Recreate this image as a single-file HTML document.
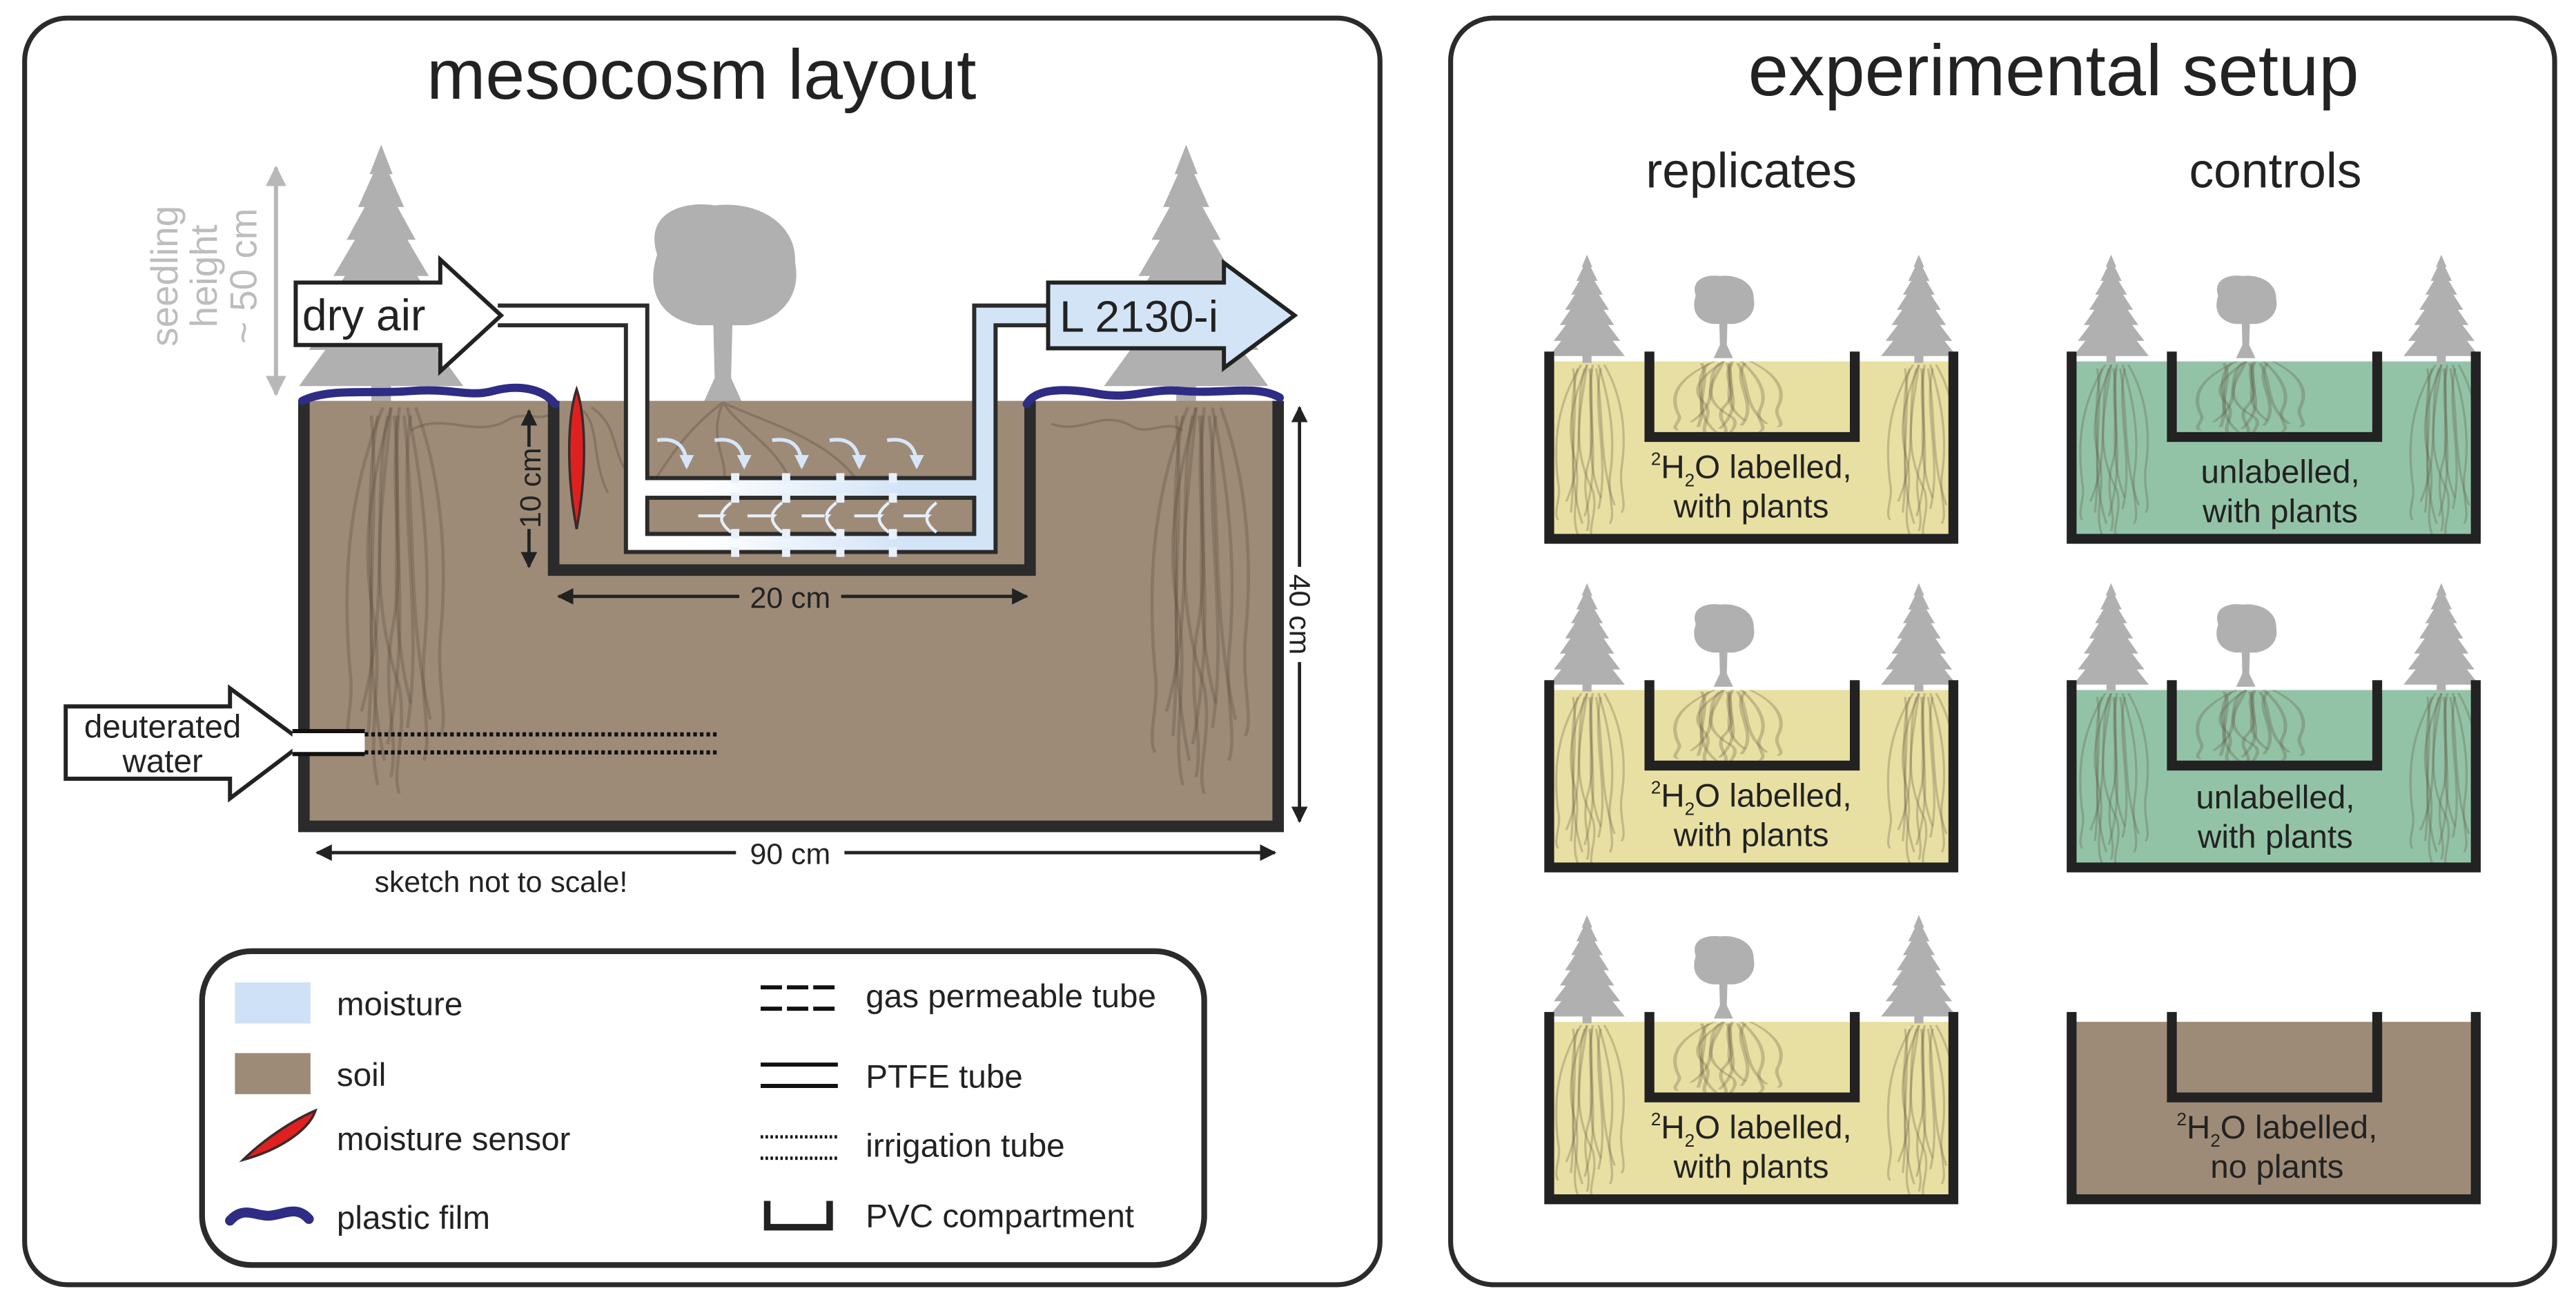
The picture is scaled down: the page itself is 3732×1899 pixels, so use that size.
<!DOCTYPE html>
<html><head><meta charset="utf-8"><style>
html,body{margin:0;padding:0;background:#fff}
svg{display:block}
text{font-family:"Liberation Sans",sans-serif;fill:#222}
</style></head><body>
<svg width="3732" height="1899" viewBox="0 0 1568 798" preserveAspectRatio="none" xmlns="http://www.w3.org/2000/svg">
<defs>
<path id="con" d="M0,0 L-7,18 L-5,18 L-14,38 L-10,38 L-21,58 L-16,58 L-29,80 L-22,80 L-36,102 L-28,102 L-44,125 L-34,125 L-50,147 L-6,147 L-6,157 L6,157 L6,147 L50,147 L34,125 L44,125 L28,102 L36,102 L22,80 L29,80 L16,58 L21,58 L10,38 L14,38 L5,18 L7,18 Z" fill="#b0b0b0"/>
<g id="dec">
<path d="M-40,-15 C-48,-40 -25,-48 -5,-45 C20,-48 45,-35 44,-10 C48,10 35,25 15,28 L-15,28 C-35,25 -48,10 -40,-15 Z" fill="#b0b0b0"/>
<path d="M-6,20 L-5,60 L-14,80 L14,80 L5,60 L6,20 Z" fill="#b0b0b0"/>
</g>
<g id="roots" fill="none" stroke="#5e4b3a" stroke-opacity="0.3" stroke-width="2">
<path d="M0,0 C-10,40 -20,80 -10,130 C-5,170 -15,200 -8,230"/>
<path d="M5,0 C0,50 10,90 0,140 C-5,180 5,200 0,225"/>
<path d="M10,0 C20,50 25,100 20,150 C18,180 25,200 20,215"/>
<path d="M-5,0 C-25,50 -30,100 -25,160 C-22,180 -30,200 -25,210"/>
<path d="M15,0 C30,40 35,90 30,140 C28,170 35,190 30,200"/>
<path d="M0,0 C-5,60 -15,110 5,170 C10,200 0,220 5,235"/>
<path d="M2,5 C8,60 -4,120 12,180"/>
<path d="M-2,5 C-12,60 0,120 -18,185"/>
<path d="M8,5 C15,70 10,130 24,190"/>
<path d="M-8,5 C-18,60 -8,120 -14,200"/>
<path d="M4,5 C-2,70 14,120 -2,205"/>
<path d="M12,5 C4,60 20,130 10,195"/>
<path d="M-12,5 C-6,70 -20,140 -4,215"/>
</g>
<marker id="ah" viewBox="0 0 10 10" refX="9" refY="5" markerWidth="5" markerHeight="5" orient="auto-start-reverse"><path d="M0,0 L10,5 L0,10 Z" fill="#222"/></marker>
<marker id="ahg" viewBox="0 0 10 10" refX="9" refY="5" markerWidth="5" markerHeight="5" orient="auto-start-reverse"><path d="M0,0 L10,5 L0,10 Z" fill="#b8b8b8"/></marker>
<marker id="ahb" viewBox="0 0 10 10" refX="8" refY="5" markerWidth="4" markerHeight="4" orient="auto"><path d="M0,0 L10,5 L0,10 Z" fill="#d6e6f8"/></marker>
<linearGradient id="tg" x1="381" y1="0" x2="606" y2="0" gradientUnits="userSpaceOnUse"><stop offset="0.2" stop-color="#ffffff"/><stop offset="0.75" stop-color="#d3e4f7"/></linearGradient>
</defs>

<rect x="15" y="11" width="825" height="771" rx="26" fill="#fff" stroke="#2b2b2b" stroke-width="3"/>
<rect x="883" y="11" width="672" height="771" rx="26" fill="#fff" stroke="#2b2b2b" stroke-width="3"/>
<text x="427" y="60" font-size="43" text-anchor="middle">mesocosm layout</text>
<text x="1250" y="58" font-size="44" text-anchor="middle">experimental setup</text>
<text x="1066" y="114" font-size="30" text-anchor="middle">replicates</text>
<text x="1385" y="114" font-size="30" text-anchor="middle">controls</text>

<line x1="168" y1="102" x2="168" y2="240" stroke="#b8b8b8" stroke-width="2.5" marker-start="url(#ahg)" marker-end="url(#ahg)"/>
<g transform="rotate(-90)">
<text x="-168" y="108" font-size="23" text-anchor="middle" style="fill:#bdbdbd">seedling</text>
<text x="-168" y="132" font-size="23" text-anchor="middle" style="fill:#bdbdbd">height</text>
<text x="-168" y="156" font-size="23" text-anchor="middle" style="fill:#bdbdbd">~ 50 cm</text>
</g>

<use href="#con" transform="translate(232,88)"/>
<use href="#con" transform="translate(722,88)"/>
<use href="#dec" transform="translate(440,170)"/>

<rect x="185" y="244" width="593" height="259" fill="#9d8b78"/>
<use href="#roots" transform="translate(238,248)"/>
<use href="#roots" transform="translate(728,248)"/>
<g fill="none" stroke="#5e4b3a" stroke-opacity="0.35" stroke-width="1.5">
<path d="M250,262 C270,250 290,268 310,255 C320,250 330,258 338,250"/>
<path d="M440,245 C420,260 410,275 400,290 M440,245 C450,260 470,270 480,290 M440,245 C430,270 445,280 440,295 M440,245 C460,255 500,265 520,290"/>
<path d="M355,250 C365,260 360,280 370,300 M360,248 C375,258 372,270 380,285"/>
<path d="M600,250 C610,270 598,290 605,310 M640,258 C660,265 670,248 690,260 C700,265 710,255 720,262"/>
</g>
<path d="M185,244 L185,503 L778,503 L778,244" fill="none" stroke="#2b2b2b" stroke-width="7"/>

<path d="M303,186 L394,186 L394,291 L593,291 L593,186 L640,186 L640,198 L606,198 L606,336 L381,336 L381,198 L303,198 Z" fill="url(#tg)"/>
<rect x="394" y="303" width="199" height="22" fill="#9d8b78"/>
<g fill="none" stroke="#2b2b2b" stroke-width="2.5">
<path d="M303,186 L394,186 L394,291 L593,291 L593,186 L640,186"/>
<path d="M303,198 L381,198 L381,336 L606,336 L606,198 L640,198"/>
<rect x="394" y="303" width="199" height="22"/>
</g>
<g fill="#e8f0fa">
<rect x="445" y="288" width="5" height="6"/><rect x="476" y="288" width="5" height="6"/><rect x="509" y="288" width="5" height="6"/><rect x="541" y="288" width="5" height="6"/>
<rect x="445" y="300" width="5" height="6"/><rect x="476" y="300" width="5" height="6"/><rect x="509" y="300" width="5" height="6"/><rect x="541" y="300" width="5" height="6"/>
<rect x="445" y="322" width="5" height="6"/><rect x="476" y="322" width="5" height="6"/><rect x="509" y="322" width="5" height="6"/><rect x="541" y="322" width="5" height="6"/>
<rect x="445" y="333" width="5" height="6"/><rect x="476" y="333" width="5" height="6"/><rect x="509" y="333" width="5" height="6"/><rect x="541" y="333" width="5" height="6"/>
</g>
<g fill="none" stroke="#d6e6f8" stroke-width="2.2" marker-end="url(#ahb)">
<path d="M400,268 C412,266 418,272 418,284"/>
<path d="M435,268 C447,266 453,272 453,284"/>
<path d="M470,268 C482,266 488,272 488,284"/>
<path d="M505,268 C517,266 523,272 523,284"/>
<path d="M540,268 C552,266 558,272 558,284"/>
</g>
<g fill="none" stroke="#e6eef8" stroke-width="1.8">
<path d="M425,314 L440,314 M445,306 C440,310 438,314 440,314 C438,316 440,320 445,324"/>
<path d="M455,314 L470,314 M476,306 C471,310 469,314 471,314 C469,316 471,320 476,324"/>
<path d="M488,314 L502,314 M509,306 C504,310 502,314 504,314 C502,316 504,320 509,324"/>
<path d="M520,314 L535,314 M541,306 C536,310 534,314 536,314 C534,316 536,320 541,324"/>
<path d="M550,314 L564,314 M570,306 C565,310 563,314 565,314 C563,316 565,320 570,324"/>
</g>

<path d="M337,244 L337,347 L627,347 L627,244" fill="none" stroke="#2b2b2b" stroke-width="7"/>

<path d="M184,244 C200,236 225,240 250,238 C275,236 285,242 300,238 C315,234 330,236 338,246" fill="none" stroke="#2e2c85" stroke-width="5" stroke-linecap="round"/>
<path d="M625,246 C630,236 650,236 670,240 C690,243 700,236 720,238 C745,240 765,234 779,242" fill="none" stroke="#2e2c85" stroke-width="5" stroke-linecap="round"/>

<path d="M351,237 C357,255 357,290 351,322 C345,290 345,255 351,237 Z" fill="#e0201f" stroke="#3a2a2a" stroke-width="1.5"/>

<path d="M180,172 L268,172 L268,158 L305,192 L268,226 L268,210 L180,210 Z" fill="#fff" stroke="#222" stroke-width="2.5"/>
<text x="184" y="201" font-size="27">dry air</text>
<path d="M638,172 L745,172 L745,160 L788,192 L745,224 L745,212 L638,212 Z" fill="#d3e4f7" stroke="#222" stroke-width="2.5"/>
<text x="645" y="202" font-size="27">L 2130-i</text>

<path d="M40,430 L140,430 L140,419 L185,452 L140,486 L140,474 L40,474 Z" fill="#fff" stroke="#222" stroke-width="2.5"/>
<text x="99" y="449" font-size="20" text-anchor="middle">deuterated</text>
<text x="99" y="470" font-size="20" text-anchor="middle">water</text>
<rect x="178" y="446" width="44" height="13" fill="#fff"/>
<line x1="178" y1="445" x2="222" y2="445" stroke="#111" stroke-width="2.5"/>
<line x1="178" y1="459" x2="222" y2="459" stroke="#111" stroke-width="2.5"/>
<line x1="222" y1="447" x2="438" y2="447" stroke="#111" stroke-width="2.5" stroke-dasharray="2.2 1.8"/>
<line x1="222" y1="458" x2="438" y2="458" stroke="#111" stroke-width="2.5" stroke-dasharray="2.2 1.8"/>

<line x1="322" y1="250" x2="322" y2="345" stroke="#222" stroke-width="2" marker-start="url(#ah)" marker-end="url(#ah)"/>
<rect x="314" y="272" width="16" height="50" fill="#9d8b78"/>
<text transform="translate(329,297) rotate(-90)" font-size="18" text-anchor="middle">10 cm</text>
<line x1="340" y1="363" x2="625" y2="363" stroke="#222" stroke-width="2" marker-start="url(#ah)" marker-end="url(#ah)"/>
<rect x="450" y="352" width="62" height="22" fill="#9d8b78"/>
<text x="481" y="370" font-size="18" text-anchor="middle">20 cm</text>
<line x1="791" y1="248" x2="791" y2="500" stroke="#222" stroke-width="2" marker-start="url(#ah)" marker-end="url(#ah)"/>
<rect x="782" y="345" width="18" height="58" fill="#fff"/>
<text transform="translate(785,374) rotate(90)" font-size="18" text-anchor="middle">40 cm</text>
<line x1="193" y1="519" x2="776" y2="519" stroke="#222" stroke-width="2" marker-start="url(#ah)" marker-end="url(#ah)"/>
<rect x="448" y="508" width="66" height="22" fill="#fff"/>
<text x="481" y="526" font-size="18" text-anchor="middle">90 cm</text>
<text x="305" y="543" font-size="18" text-anchor="middle">sketch not to scale!</text>

<rect x="123" y="579" width="610" height="191" rx="30" fill="#fff" stroke="#2b2b2b" stroke-width="3.5"/>
<rect x="143" y="598" width="46" height="25" fill="#cfe1f6"/>
<text x="205" y="618" font-size="20">moisture</text>
<rect x="143" y="641" width="46" height="25" fill="#9d8b78"/>
<text x="205" y="661" font-size="20">soil</text>
<path d="M148,706 C160,694 178,682 192,676 C188,688 170,700 148,706 Z" fill="#e0201f" stroke="#3a2a2a" stroke-width="1.5"/>
<text x="205" y="700" font-size="20">moisture sensor</text>
<path d="M140,743 C148,734 155,740 163,740 C172,740 180,733 188,742" fill="none" stroke="#2e2c85" stroke-width="6" stroke-linecap="round"/>
<text x="205" y="748" font-size="20">plastic film</text>
<line x1="463" y1="601" x2="510" y2="601" stroke="#111" stroke-width="2.5" stroke-dasharray="13 3"/>
<line x1="463" y1="614" x2="510" y2="614" stroke="#111" stroke-width="2.5" stroke-dasharray="13 3"/>
<text x="527" y="613" font-size="20">gas permeable tube</text>
<line x1="463" y1="648" x2="510" y2="648" stroke="#111" stroke-width="2.5"/>
<line x1="463" y1="661" x2="510" y2="661" stroke="#111" stroke-width="2.5"/>
<text x="527" y="662" font-size="20">PTFE tube</text>
<line x1="463" y1="692" x2="510" y2="692" stroke="#111" stroke-width="2" stroke-dasharray="1.5 1.5"/>
<line x1="463" y1="705" x2="510" y2="705" stroke="#111" stroke-width="2" stroke-dasharray="1.5 1.5"/>
<text x="527" y="704" font-size="20">irrigation tube</text>
<path d="M467,731 L467,747 L505,747 L505,731" fill="none" stroke="#222" stroke-width="4"/>
<text x="527" y="747" font-size="20">PVC compartment</text>

<g id="rep1">
<rect x="943" y="220" width="246" height="108" fill="#e8e0a2"/>
<use href="#con" transform="translate(966,155) scale(0.46,0.42)"/>
<use href="#con" transform="translate(1168,155) scale(0.46,0.42)"/>
<use href="#dec" transform="translate(1049,186) scale(0.42,0.4)"/>
<g opacity="0.9"><use href="#roots" transform="translate(966,222) scale(0.7,0.45)"/><use href="#roots" transform="translate(1168,222) scale(0.7,0.45)"/><use href="#roots" transform="translate(1049,220) scale(1.1,0.2)"/></g>
<path d="M943,214 L943,328 L1189,328 L1189,214" fill="none" stroke="#222" stroke-width="6"/>
<path d="M1004,214 L1004,266 L1129,266 L1129,214" fill="none" stroke="#222" stroke-width="6"/>
<text x="1066" y="291" font-size="20" text-anchor="middle"><tspan font-size="11" dy="-8">2</tspan><tspan dy="8">H</tspan><tspan font-size="11" dy="5">2</tspan><tspan dy="-5">O labelled,</tspan></text>
<text x="1066" y="315" font-size="20" text-anchor="middle">with plants</text>
</g>
<use href="#rep1" transform="translate(0,200)"/>
<use href="#rep1" transform="translate(0,402)"/>

<g id="ctl1">
<rect x="1261" y="220" width="246" height="108" fill="#93c3a6"/>
<use href="#con" transform="translate(1285,155) scale(0.46,0.42)"/>
<use href="#con" transform="translate(1486,155) scale(0.46,0.42)"/>
<use href="#dec" transform="translate(1367,186) scale(0.42,0.4)"/>
<g opacity="0.9"><use href="#roots" transform="translate(1285,222) scale(0.7,0.45)"/><use href="#roots" transform="translate(1486,222) scale(0.7,0.45)"/><use href="#roots" transform="translate(1367,220) scale(1.1,0.2)"/></g>
<path d="M1261,214 L1261,328 L1507,328 L1507,214" fill="none" stroke="#222" stroke-width="6"/>
<path d="M1322,214 L1322,266 L1447,266 L1447,214" fill="none" stroke="#222" stroke-width="6"/>
<text x="1388" y="294" font-size="20" text-anchor="middle">unlabelled,</text>
<text x="1388" y="318" font-size="20" text-anchor="middle">with plants</text>
</g>
<g transform="translate(-3,200)">
<rect x="1264" y="220" width="246" height="108" fill="#93c3a6"/>
<use href="#con" transform="translate(1288,155) scale(0.46,0.42)"/>
<use href="#con" transform="translate(1489,155) scale(0.46,0.42)"/>
<use href="#dec" transform="translate(1370,186) scale(0.42,0.4)"/>
<g opacity="0.9"><use href="#roots" transform="translate(1288,222) scale(0.7,0.45)"/><use href="#roots" transform="translate(1489,222) scale(0.7,0.45)"/><use href="#roots" transform="translate(1370,220) scale(1.1,0.2)"/></g>
<path d="M1264,214 L1264,328 L1510,328 L1510,214" fill="none" stroke="#222" stroke-width="6"/>
<path d="M1325,214 L1325,266 L1450,266 L1450,214" fill="none" stroke="#222" stroke-width="6"/>
<text x="1388" y="292" font-size="20" text-anchor="middle">unlabelled,</text>
<text x="1388" y="316" font-size="20" text-anchor="middle">with plants</text>
</g>
<g transform="translate(0,402)">
<rect x="1261" y="220" width="246" height="108" fill="#9d8b78"/>
<path d="M1261,214 L1261,328 L1507,328 L1507,214" fill="none" stroke="#222" stroke-width="6"/>
<path d="M1322,214 L1322,266 L1447,266 L1447,214" fill="none" stroke="#222" stroke-width="6"/>
<text x="1386" y="291" font-size="20" text-anchor="middle"><tspan font-size="11" dy="-8">2</tspan><tspan dy="8">H</tspan><tspan font-size="11" dy="5">2</tspan><tspan dy="-5">O labelled,</tspan></text>
<text x="1386" y="315" font-size="20" text-anchor="middle">no plants</text>
</g>
</svg>
</body></html>
